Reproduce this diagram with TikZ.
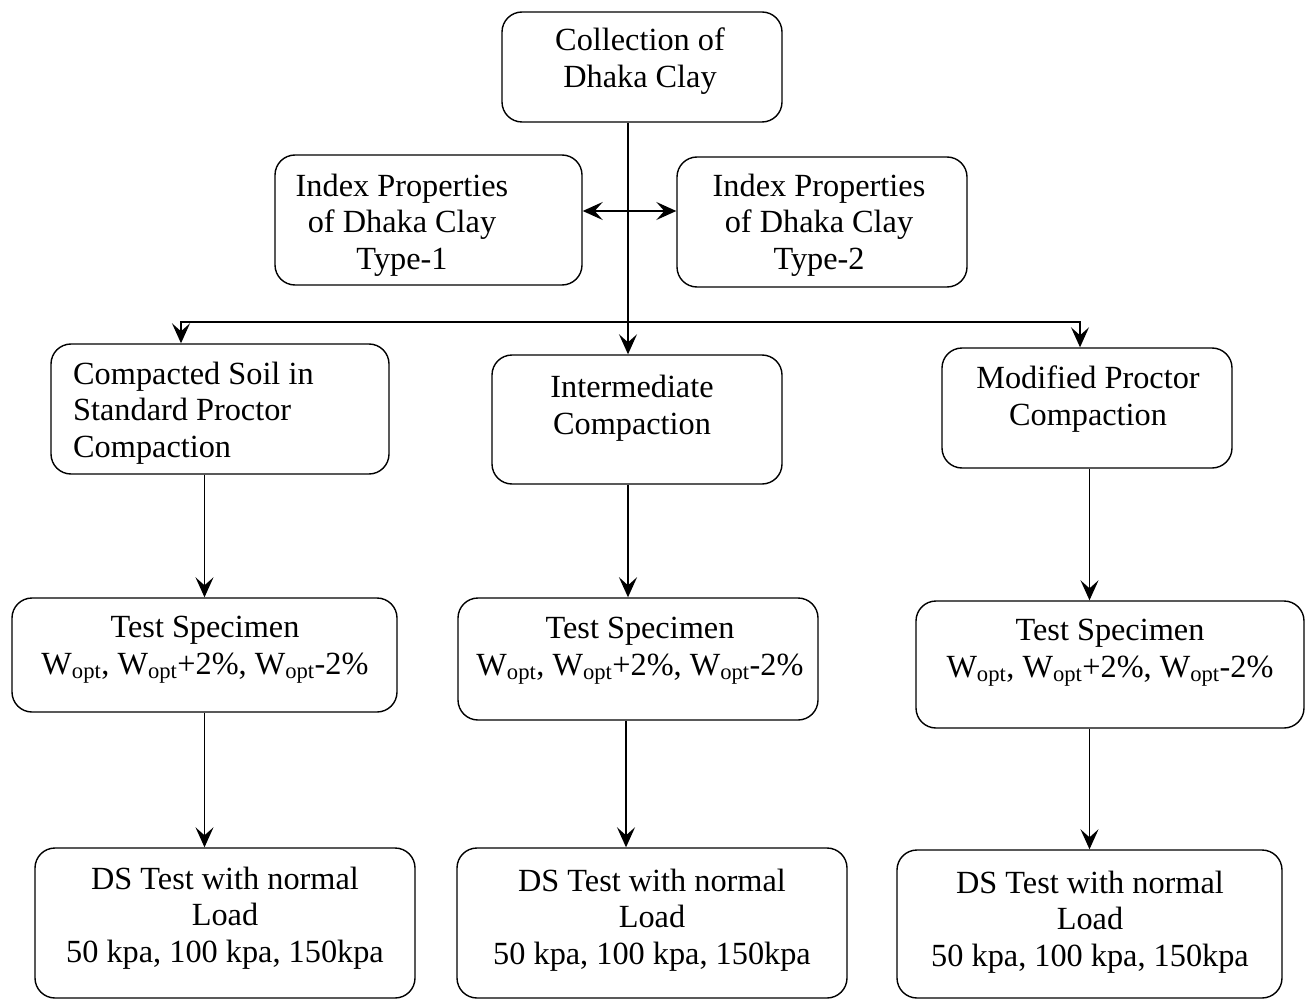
\documentclass[tikz,border=0pt]{standalone}
\usepackage{fontspec}
\setmainfont{LiberationSerif}[Extension=.ttf,UprightFont=*-Regular,BoldFont=*-Bold,ItalicFont=*-Italic,BoldItalicFont=*-BoldItalic]
\usetikzlibrary{arrows.meta}
\begin{document}
\begin{tikzpicture}[x=1pt,y=-1pt,
  box/.style={draw,line width=1.4pt,rounded corners=20pt,inner sep=0pt},
  txt/.style={inner sep=0pt,align=center,font=\fontsize{32.3}{36.5}\selectfont},
  tip/.tip={Stealth[length=20pt,width=18pt,inset=8pt]},
  arr/.style={line width=1.4pt,-tip},
  ln/.style={line width=1.4pt}]
\useasboundingbox (0,0) rectangle (1308,1000);
% boxes
\node[box,minimum width=280pt,minimum height=110pt] (coll) at (642,67) {};
\node[txt] (collt) at (640,61) {Collection of\\Dhaka Clay};
\node[box,minimum width=307pt,minimum height=130pt] (idx1) at (428.5,220) {};
\node[txt] (idx1t) at (402,225) {Index Properties\\of Dhaka Clay\\Type-1};
\node[box,minimum width=290pt,minimum height=130pt] (idx2) at (822,222) {};
\node[txt] (idx2t) at (819,225) {Index Properties\\of Dhaka Clay\\Type-2};
\node[box,minimum width=338pt,minimum height=130pt] (comp) at (220,409) {};
\node[txt,align=left,anchor=west] (compt) at (73,413) {Compacted Soil in\\Standard Proctor\\Compaction};
\node[box,minimum width=290pt,minimum height=129pt] (inter) at (637,419.5) {};
\node[txt] (intert) at (632,408) {Intermediate\\Compaction};
\node[box,minimum width=290pt,minimum height=120pt] (mod) at (1087,408) {};
\node[txt] (modt) at (1088,399) {Modified Proctor\\Compaction};
\node[box,minimum width=385pt,minimum height=114pt] (t1) at (204.5,655) {};
\node[txt] (t1t) at (205,650) {Test Specimen\\W\textsubscript{opt}, W\textsubscript{opt}+2\%, W\textsubscript{opt}-2\%};
\node[box,minimum width=360pt,minimum height=122pt] (t2) at (638,659) {};
\node[txt] (t2t) at (640,651) {Test Specimen\\W\textsubscript{opt}, W\textsubscript{opt}+2\%, W\textsubscript{opt}-2\%};
\node[box,minimum width=388pt,minimum height=127pt] (t3) at (1110,664.5) {};
\node[txt] (t3t) at (1110,653) {Test Specimen\\W\textsubscript{opt}, W\textsubscript{opt}+2\%, W\textsubscript{opt}-2\%};
\node[box,minimum width=380pt,minimum height=150pt] (ds1) at (225,923) {};
\node[txt] (ds1t) at (225,918) {DS Test with normal\\Load\\50 kpa, 100 kpa, 150kpa};
\node[box,minimum width=390pt,minimum height=150pt] (ds2) at (652,923) {};
\node[txt] (ds2t) at (652,920) {DS Test with normal\\Load\\50 kpa, 100 kpa, 150kpa};
\node[box,minimum width=385pt,minimum height=148pt] (ds3) at (1089.5,924) {};
\node[txt] (ds3t) at (1090,922) {DS Test with normal\\Load\\50 kpa, 100 kpa, 150kpa};
% junction coordinates
\coordinate (j) at (628,322);
\coordinate (jl) at (181,322);
\coordinate (jr) at (1080,322);
% connectors
\draw[arr] (j |- coll.south) -- (j |- inter.north);
\draw[ln,tip-tip] ([yshift=9pt]idx1.east) -- ([yshift=9pt]idx1.east -| idx2.west);
\draw[arr] (j) -- (jl) -- (jl |- comp.north);
\draw[arr] (j) -- (jr) -- (jr |- mod.north);
\draw[arr] (t1.north |- comp.south) -- (t1.north);
\draw[arr] (t1.south) -- (t1.south |- ds1.north);
\draw[arr,line width=2.4pt] (j |- inter.south) -- (j |- t2.north);
\draw[arr] ([xshift=-2pt]j |- t2.south) -- ([xshift=-2pt]j |- ds2.north);
\draw[arr] (ds3.north |- mod.south) -- (ds3.north |- t3.north);
\draw[arr] (ds3.north |- t3.south) -- (ds3.north);
\end{tikzpicture}
\end{document}
